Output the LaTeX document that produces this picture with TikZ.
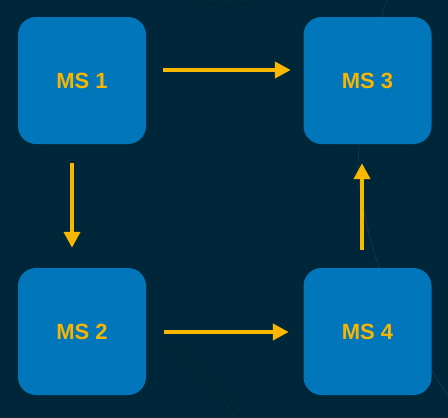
\documentclass[tikz,border=0pt]{standalone}
\usepackage{fontspec}
\setmainfont{Liberation Sans}
\usetikzlibrary{arrows.meta}
\definecolor{bgc}{HTML}{00263A}
\definecolor{boxc}{HTML}{0176BB}
\definecolor{txtc}{HTML}{F6B500}
\definecolor{arrc}{HTML}{F9B800}
\definecolor{faintc}{HTML}{173A4E}
\definecolor{faintd}{HTML}{02202F}
\tikzset{
  msbox/.style={fill=boxc, rounded corners=18pt, minimum width=128pt, minimum height=127pt,
    inner sep=0pt, font=\fontsize{22}{22}\selectfont\bfseries, text=txtc},
  flow/.style={draw=arrc, line width=4pt, -{Triangle[length=16pt,width=16pt]}},
  faint/.style={draw=faintc, line width=0.6pt},
}
\begin{document}
\begin{tikzpicture}[x=1pt,y=-1pt]
\fill[bgc] (0,0) rectangle (448,418);
\useasboundingbox (0,0) rectangle (448,418);
% faint background curves
\draw[faint] (388,-2) .. controls (365,60) and (352,150) .. (362,200)
  .. controls (372,260) and (390,300) .. (420,350) .. controls (432,370) and (440,385) .. (450,398);
\draw[draw=faintd, line width=1pt] (170,345) .. controls (200,370) and (225,395) .. (242,420);
\draw[draw=faintd, line width=1pt] (205,2) .. controls (220,8) and (235,8) .. (250,2);
% boxes
\node[msbox] (ms1) at (82,80.5) {MS 1};
\node[msbox] (ms3) at (367.5,80.5) {MS 3};
\node[msbox] (ms2) at (82,331.5) {MS 2};
\node[msbox] (ms4) at (367.5,331.5) {MS 4};
% arrows
\draw[flow] ([xshift=17pt,yshift=10.5pt]ms1.east) -- ([xshift=-12.5pt,yshift=10.5pt]ms3.west);
\draw[flow] ([xshift=18pt,yshift=-0.5pt]ms2.east) -- ([xshift=-14.5pt,yshift=-0.5pt]ms4.west);
\draw[flow] ([xshift=-10pt,yshift=-19pt]ms1.south) -- ([xshift=-10pt,yshift=20pt]ms2.north);
\draw[flow] ([xshift=-5.5pt,yshift=18pt]ms4.north) -- ([xshift=-5.5pt,yshift=-19pt]ms3.south);
\end{tikzpicture}
\end{document}
